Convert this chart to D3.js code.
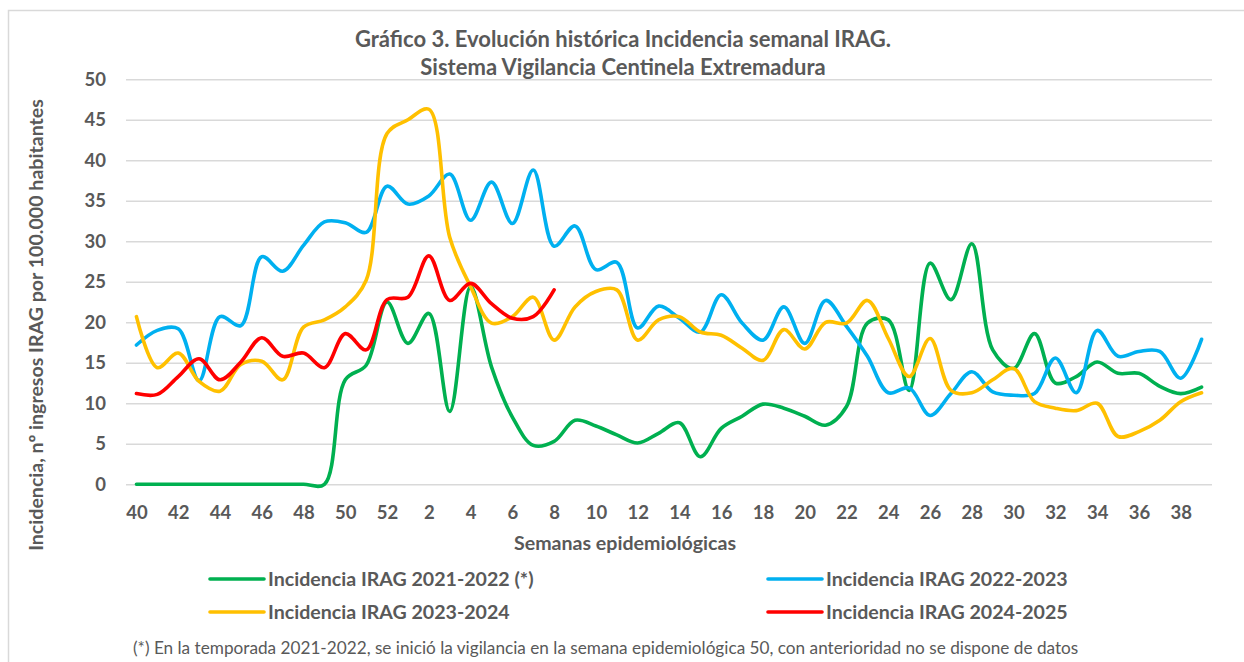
<!DOCTYPE html>
<html>
<head>
<meta charset="utf-8">
<script src="https://cdn.jsdelivr.net/npm/d3@7"></script>
<style>
  html, body { margin: 0; padding: 0; background: #fff; }
  svg { display: block; }
  text { font-family: Lato, "Open Sans", sans-serif; fill: #595959; }
</style>
</head>
<body>
<svg id="chart" width="1244" height="662"></svg>
<script>
// ---- Data ----
const weeks = ["40","41","42","43","44","45","46","47","48","49","50","51","52",
  "1","2","3","4","5","6","7","8","9","10","11","12","13","14","15","16","17","18","19",
  "20","21","22","23","24","25","26","27","28","29","30","31","32","33","34","35","36","37","38","39"];

const tickWeeks = ["40","42","44","46","48","50","52","2","4","6","8","10","12","14","16","18",
  "20","22","24","26","28","30","32","34","36","38"];

const yTicks = [0,5,10,15,20,25,30,35,40,45,50];

const irag2122 = [0,0,0,0,0,0,0,0,0,0,12.9,14.7,22.5,
  17.4,21.1,9.0,24.4,14.5,8.3,4.8,5.3,7.9,7.2,
  6.1,5.1,6.3,7.6,3.4,6.9,8.4,9.9,9.4,8.4,7.3,9.6,19.9,20.3,
  11.6,27.3,22.8,29.7,16.6,14.3,18.6,12.5,13.3,15.1,13.7,13.7,12.1,11.2,12.0];

const irag2223 = [17.2,19.0,19.2,12.8,20.7,19.6,28.1,26.3,29.5,32.4,32.3,31.1,36.8,
  34.6,35.6,38.3,32.6,37.3,32.2,38.8,29.4,31.9,26.5,
  27.4,19.3,22.0,20.5,18.8,23.4,19.9,17.8,21.9,17.4,22.7,19.5,15.8,11.3,
  11.9,8.5,11.2,13.9,11.4,11.0,11.2,15.6,11.3,19.0,15.8,16.4,16.4,13.1,17.9];

const irag2324 = [20.7,14.4,16.2,12.7,11.5,14.8,15.2,12.9,19.4,20.3,21.9,25.2,43.3,
  45.0,46.3,30.5,24.4,19.9,20.7,23.1,17.8,21.9,23.8,
  24.0,17.8,20.3,20.7,18.8,18.4,16.8,15.3,19.1,16.7,20.0,19.9,22.7,18.0,
  13.3,18.0,11.6,11.3,12.9,14.3,10.2,9.4,9.1,10.0,5.9,6.5,7.9,10.2,11.3];

const irag2425 = [11.2,11.1,13.3,15.5,12.9,15.1,18.1,15.8,16.2,14.4,18.6,16.6,22.8,
  23.1,28.2,22.7,24.8,22.3,20.5,20.7,24.0];

const seriesNames = ["Incidencia IRAG 2021-2022 (*)","Incidencia IRAG 2022-2023",
  "Incidencia IRAG 2023-2024","Incidencia IRAG 2024-2025"];
const seriesColors = ["#00B050","#00B0F0","#FFC000","#FF0000"];
const seriesValues = [irag2122, irag2223, irag2324, irag2425];

const titleLines = ["Gráfico 3. Evolución histórica Incidencia semanal IRAG.",
  "Sistema Vigilancia Centinela Extremadura"];
const yTitle = "Incidencia, nº ingresos IRAG por 100.000 habitantes";
const xTitle = "Semanas epidemiológicas";
const footnote = "(*) En la temporada 2021-2022, se inició la vigilancia en la semana epidemiológica 50, con anterioridad no se dispone de datos";

// ---- Layout ----
const svg = d3.select("#chart");
const plotLeft = 126, plotRight = 1212, plotTop = 79.3, plotBottom = 484.3;

svg.append("rect").attr("x", 8.5).attr("y", 10.5).attr("width", 1400).attr("height", 800)
  .attr("fill", "#fff").attr("stroke", "#D9D9D9").attr("stroke-width", 1.5);

const x = d3.scalePoint().domain(weeks).range([plotLeft, plotRight]).padding(0.5);
const y = d3.scaleLinear().domain([0, 50]).range([plotBottom, plotTop]);

// gridlines
const yAxis = d3.axisLeft(y).tickValues(yTicks).tickSize(-(plotRight - plotLeft)).tickPadding(20);
const gy = svg.append("g").attr("transform", `translate(${plotLeft},0)`).call(yAxis);
gy.select(".domain").remove();
gy.selectAll(".tick line").attr("stroke", "#D9D9D9").attr("stroke-width", 1.6);
gy.selectAll(".tick text").attr("font-size", 18.5).attr("font-weight", 700)
  .attr("fill", "#595959").attr("font-family", "Lato");

// x axis labels
const xAxis = d3.axisBottom(x).tickValues(tickWeeks).tickSize(0).tickPadding(22);
const gx = svg.append("g").attr("transform", `translate(0,${plotBottom})`).call(xAxis);
gx.select(".domain").remove();
gx.selectAll(".tick text").attr("font-size", 18.5).attr("font-weight", 700)
  .attr("fill", "#595959").attr("font-family", "Lato");

// lines
const line = d3.line()
  .x((d, i) => x(weeks[i]))
  .y(d => y(d))
  .curve(d3.curveCatmullRom.alpha(0.5));

seriesValues.forEach((vals, k) => {
  svg.append("path").datum(vals)
    .attr("d", line)
    .attr("fill", "none")
    .attr("stroke", seriesColors[k])
    .attr("stroke-width", 3.6)
    .attr("stroke-linejoin", "round")
    .attr("stroke-linecap", "round");
});

// title
svg.append("text").attr("x", 623).attr("y", 47).attr("text-anchor", "middle")
  .attr("font-size", 22).attr("font-weight", 700).text(titleLines[0]);
svg.append("text").attr("x", 623).attr("y", 75).attr("text-anchor", "middle")
  .attr("font-size", 22).attr("font-weight", 700).text(titleLines[1]);

// y title
svg.append("text").attr("transform", "translate(43,325) rotate(-90)")
  .attr("text-anchor", "middle").attr("font-size", 19.6).attr("font-weight", 700).text(yTitle);

// x title
svg.append("text").attr("x", 625).attr("y", 550).attr("text-anchor", "middle")
  .attr("font-size", 19.6).attr("font-weight", 700).text(xTitle);

// legend
const legendPos = [[210, 579], [768, 579], [210, 612], [768, 612]];
seriesNames.forEach((name, k) => {
  const [lx, ly] = legendPos[k];
  svg.append("line").attr("x1", lx).attr("x2", lx + 54).attr("y1", ly).attr("y2", ly)
    .attr("stroke", seriesColors[k]).attr("stroke-width", 3.6).attr("stroke-linecap", "round");
  svg.append("text").attr("x", lx + 58).attr("y", ly + 7)
    .attr("font-size", 19.6).attr("font-weight", 700).text(name);
});

// footnote
svg.append("text").attr("x", 133).attr("y", 654).attr("font-size", 17.2).text(footnote)
  .attr("fill", "#000");
</script>
</body>
</html>
